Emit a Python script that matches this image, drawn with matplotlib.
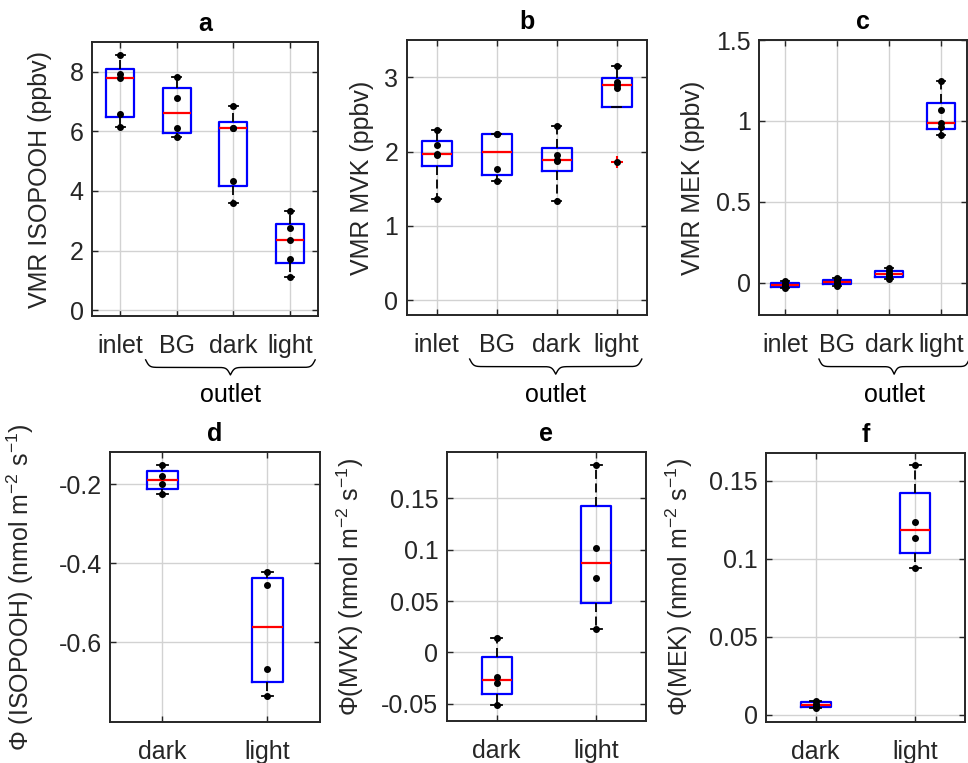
import numpy as np
import matplotlib.pyplot as plt
from matplotlib.ticker import FuncFormatter

plt.rcParams['font.family'] = ['Liberation Sans', 'DejaVu Sans']
plt.rcParams['mathtext.default'] = 'regular'
plt.rcParams['axes.unicode_minus'] = False

# mixing ratios (ppbv) per sampling position
cats_vmr = ['inlet', 'BG', 'dark', 'light']
isopooh_vmr = [[6.15, 6.58, 7.80, 7.94, 8.55],
               [5.82, 6.10, 7.11, 7.83],
               [3.59, 4.35, 6.10, 6.12, 6.85],
               [1.11, 1.73, 2.34, 2.75, 3.32]]
mvk_vmr = [[1.36, 1.95, 1.97, 2.09, 2.29],
           [1.61, 1.76, 2.23, 2.24],
           [1.34, 1.87, 1.89, 1.95, 2.34],
           [1.86, 2.85, 2.89, 2.94, 3.15]]
mek_vmr = [[-0.035, -0.02, -0.012, -0.005, 0.008],
           [-0.02, -0.005, 0.006, 0.015, 0.028],
           [0.025, 0.042, 0.054, 0.07, 0.09],
           [0.915, 0.96, 0.988, 1.068, 1.245]]

# fluxes (nmol m-2 s-1)
cats_flux = ['dark', 'light']
isopooh_flux = [[-0.225, -0.200, -0.180, -0.152],
                [-0.736, -0.666, -0.454, -0.423]]
mvk_flux = [[-0.0514, -0.030, -0.024, 0.0143],
            [0.0228, 0.0725, 0.102, 0.183]]
mek_flux = [[0.004, 0.0058, 0.007, 0.0088],
            [0.094, 0.1132, 0.1237, 0.160]]

FS = 18
AXC = '#262626'


def box_stats(vals):
    # matlab style quartiles (hazen) and 1.5 IQR whiskers
    v = np.sort(np.asarray(vals, float))
    q1, med, q3 = np.percentile(v, [25, 50, 75], method='hazen')
    iqr = q3 - q1
    lo, hi = q1 - 1.5 * iqr, q3 + 1.5 * iqr
    inside = v[(v >= lo) & (v <= hi)]
    return dict(med=med, q1=q1, q3=q3,
                whislo=min(inside.min(), q1), whishi=max(inside.max(), q3),
                fliers=v[(v < lo) | (v > hi)])


def draw_panel(ax, groups, labels, width, capw, ylim, yticks, title, ylabel, lblx):
    pos = np.arange(1, len(groups) + 1)
    ax.bxp([box_stats(g) for g in groups], positions=pos, widths=width,
           capwidths=capw, manage_ticks=False,
           boxprops=dict(color='#0000ff', lw=1.6),
           medianprops=dict(color='#ff0000', lw=1.6),
           whiskerprops=dict(color='k', lw=1.3, ls=(0, (5, 2.5))),
           capprops=dict(color='k', lw=1.3),
           flierprops=dict(marker='+', markeredgecolor='#ff0000', ms=9, mew=1.5))
    for p, g in zip(pos, groups):
        ax.plot(np.full(len(g), p), g, 'o', color='k', ms=4, zorder=5)

    ax.set_xlim(0.5, len(groups) + 0.5)
    ax.set_ylim(*ylim)
    ax.set_xticks(pos)
    ax.set_xticklabels(labels)
    ax.set_yticks(yticks)
    ax.yaxis.set_major_formatter(FuncFormatter(lambda v, p: f'{round(v, 6) + 0:g}'))
    ax.set_axisbelow(True)
    ax.grid(True, color='#d2d2d2', lw=1.0)
    ax.tick_params(direction='in', top=True, right=True, length=4, width=1.0,
                   labelsize=FS, colors=AXC)
    ax.tick_params(axis='x', pad=13)
    ax.tick_params(axis='y', pad=6)
    for s in ax.spines.values():
        s.set_color(AXC)
        s.set_linewidth(1.4)
    ax.set_title(title, fontsize=FS, fontweight='bold', pad=8)
    ax.set_ylabel(ylabel, fontsize=FS, color=AXC)
    ax.yaxis.set_label_coords(lblx, 0.5)


def draw_brace(ax, xa, xb, ytop=-0.16, depth=0.055, text='outlet'):
    lo, hi = ax.get_xlim()
    fa, fb = (xa - lo) / (hi - lo), (xb - lo) / (hi - lo)
    u = np.linspace(0, 0.5, 200)
    b = 90.0
    half = 1 / (1 + np.exp(-b * u)) + 1 / (1 + np.exp(-b * (u - 0.5)))
    yy = np.concatenate([half, half[::-1]])
    xx = np.concatenate([u, 1 - u[::-1]])
    xs = fa + (fb - fa) * xx
    ys = ytop - depth * (yy - 0.5)
    ax.plot(xs, ys, color='k', lw=1.0, transform=ax.transAxes, clip_on=False)
    ax.text((fa + fb) / 2, ytop - depth - 0.075, text, transform=ax.transAxes,
            ha='center', va='center', fontsize=FS, color='k')


fig = plt.figure(figsize=(9.68, 7.63), dpi=100)

ax_a = fig.add_axes([0.0950, 0.5858, 0.2335, 0.3591])
ax_b = fig.add_axes([0.4201, 0.5871, 0.2479, 0.3604])
ax_c = fig.add_axes([0.7844, 0.5871, 0.2143, 0.3604])
ax_d = fig.add_axes([0.1136, 0.0541, 0.2169, 0.3531])
ax_e = fig.add_axes([0.4615, 0.0550, 0.2059, 0.3522])
ax_f = fig.add_axes([0.7913, 0.0541, 0.2056, 0.3526])

draw_panel(ax_a, isopooh_vmr, cats_vmr, 0.5, 0.16, (-0.2, 9), [0, 2, 4, 6, 8],
           'a', 'VMR ISOPOOH (ppbv)', -0.175)
draw_panel(ax_b, mvk_vmr, cats_vmr, 0.5, 0.16, (-0.2, 3.5), [0, 1, 2, 3],
           'b', 'VMR MVK (ppbv)', -0.135)
draw_panel(ax_c, mek_vmr, cats_vmr, 0.55, 0.16, (-0.2, 1.5), [0, 0.5, 1, 1.5],
           'c', 'VMR MEK (ppbv)', -0.26)
draw_panel(ax_d, isopooh_flux, cats_flux, 0.3, 0.11, (-0.8, -0.12), [-0.6, -0.4, -0.2],
           'd', 'Φ (ISOPOOH) (nmol m$^{-2}$ s$^{-1}$)', -0.35)
draw_panel(ax_e, mvk_flux, cats_flux, 0.3, 0.11, (-0.067, 0.195),
           [-0.05, 0, 0.05, 0.1, 0.15],
           'e', 'Φ(MVK) (nmol m$^{-2}$ s$^{-1}$)', -0.405)
draw_panel(ax_f, mek_flux, cats_flux, 0.3, 0.11, (-0.0045, 0.168), [0, 0.05, 0.1, 0.15],
           'f', 'Φ(MEK) (nmol m$^{-2}$ s$^{-1}$)', -0.355)

draw_brace(ax_a, 1.45, 4.45)
draw_brace(ax_b, 1.55, 4.42)
draw_brace(ax_c, 1.65, 4.55)

fig.savefig('out.png', dpi=100)
